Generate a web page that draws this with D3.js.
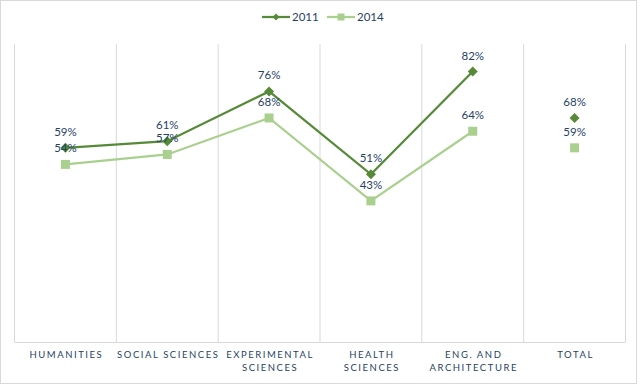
<!DOCTYPE html>
<html><head><meta charset="utf-8">
<script src="https://cdn.jsdelivr.net/npm/d3@7"></script>
<style>body{margin:0;background:#fff}svg{display:block}</style>
</head><body>
<script>
const categories = ["HUMANITIES","SOCIAL SCIENCES","EXPERIMENTAL SCIENCES","HEALTH SCIENCES","ENG. AND ARCHITECTURE","TOTAL"];
const categoryLines = [["HUMANITIES"],["SOCIAL SCIENCES"],["EXPERIMENTAL","SCIENCES"],["HEALTH","SCIENCES"],["ENG. AND","ARCHITECTURE"],["TOTAL"]];
const seriesNames = ["2011","2014"];
const values2011 = [59,61,76,51,82,68];
const values2014 = [54,57,68,43,64,59];
const lineCount = 5; // first five joined, TOTAL separate

const W=640,H=385;
const svg=d3.select("body").append("svg").attr("width",W).attr("height",H);
svg.append("rect").attr("x",0.5).attr("y",0.5).attr("width",636).attr("height",383)
  .attr("fill","#fff").attr("stroke","#d9d9d9");

const x=d3.scaleBand().domain(categories).range([14.5,625.5]).padding(0);
const y=d3.scaleLinear().domain([0,90]).range([343.5,45]);

const bounds=categories.map(c=>x(c)).concat([x.range()[1]]);
svg.append("g").selectAll("line").data(bounds).join("line")
  .attr("x1",d=>d).attr("x2",d=>d).attr("y1",44).attr("y2",342)
  .attr("stroke","#d9d9d9").attr("stroke-width",1);
svg.append("line").attr("x1",x.range()[0]).attr("x2",x.range()[1]).attr("y1",342.5).attr("y2",342.5)
  .attr("stroke","#d9d9d9");

const textColor="#1f4266";
const font="Lato, 'Open Sans', sans-serif";
const ax=svg.append("g");
categories.forEach((c,i)=>{
  const t=ax.append("text").attr("y",358)
    .attr("text-anchor","middle").attr("font-family",font)
    .attr("font-size",9.5).attr("letter-spacing",1.55).attr("fill",textColor);
  categoryLines[i].forEach((l,j)=>t.append("tspan").attr("x",x(c)+x.bandwidth()/2+1).attr("dy",j?13:0).text(l));
});

const cx=c=>x(c)+x.bandwidth()/2;
const diamond=r=>`M0,${-r}L${r},0L0,${r}L${-r},0Z`;
const square=r=>`M${-r},${-r}H${r}V${r}H${-r}Z`;
const series=[
  {name:"2011",vals:values2011,color:"#568a38",marker:"diamond"},
  {name:"2014",vals:values2014,color:"#a9d08e",marker:"square"}
];
const line=d3.line().x(d=>cx(d.c)).y(d=>y(d.v));
[series[1],series[0]].forEach(s=>{
  const pts=s.vals.map((v,i)=>({c:categories[i],v}));
  svg.append("path").datum(pts.slice(0,lineCount)).attr("d",line)
    .attr("fill","none").attr("stroke",s.color).attr("stroke-width",2.25);
  svg.append("g").selectAll("path").data(pts).join("path")
    .attr("transform",d=>`translate(${cx(d.c)},${y(d.v)})`)
    .attr("d",s.marker==="diamond"?diamond(5):square(4.5))
    .attr("fill",s.color);
});
series.forEach(s=>{
  svg.append("g").selectAll("text").data(s.vals.map((v,i)=>({c:categories[i],v}))).join("text")
    .attr("x",d=>cx(d.c)).attr("y",d=>y(d.v)-12)
    .attr("text-anchor","middle").attr("font-family",font)
    .attr("font-size",11.5).attr("fill",textColor).text(d=>d.v+"%");
});

const lg=svg.append("g").attr("font-family",font).attr("font-size",11.5).attr("fill",textColor);
const legendX=[262,327];
series.forEach((s,i)=>{
  const lx=legendX[i];
  lg.append("line").attr("x1",lx).attr("x2",lx+28).attr("y1",17).attr("y2",17).attr("stroke",s.color).attr("stroke-width",2.25);
  lg.append("path").attr("transform",`translate(${lx+14},17)`)
    .attr("d",s.marker==="diamond"?diamond(3.5):square(3.5))
    .attr("fill",s.color);
  lg.append("text").attr("x",lx+30).attr("y",21).text(s.name);
});
</script>
</body></html>
